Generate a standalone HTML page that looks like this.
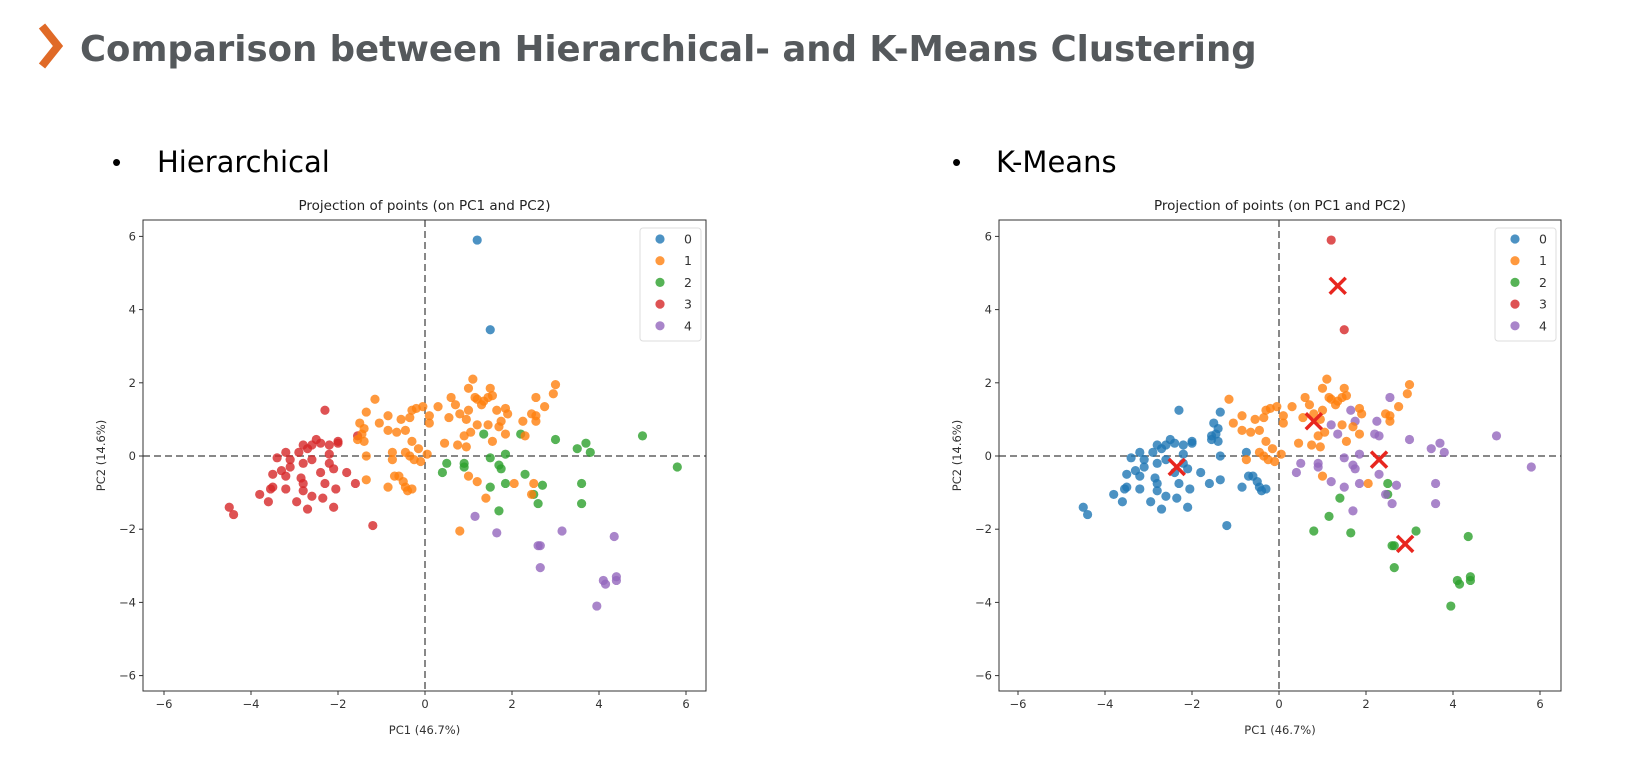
<!DOCTYPE html>
<html><head><meta charset="utf-8"><style>
body{margin:0;background:#fff;width:1632px;height:776px;overflow:hidden;font-family:"Liberation Sans",sans-serif}
svg{position:absolute;left:0;top:0}
.c{font-family:"DejaVu Sans","Liberation Sans",sans-serif}
</style></head><body>
<svg id="s" width="1632" height="776" xmlns="http://www.w3.org/2000/svg">
<path d="M42 26 L58 46 L42 66" stroke="#e06a27" stroke-width="8" fill="none"/>
<text x="80" y="61" font-size="35.5" font-weight="bold" fill="#55595c" font-family="DejaVu Sans, sans-serif">Comparison between Hierarchical- and K-Means Clustering</text>
<text x="112" y="171" font-size="26">•</text>
<text x="157" y="172" font-size="29" font-family="DejaVu Sans, sans-serif">Hierarchical</text>
<text x="952" y="171" font-size="26">•</text>
<text x="996" y="172" font-size="29" font-family="DejaVu Sans, sans-serif">K-Means</text>
</svg>
<script>
const pcX=[1.2,1.5,
1.15,1.65,2.6,2.65,2.65,3.15,4.35,4.1,4.15,4.4,4.4,3.95,
1.35,2.2,3.0,3.5,3.7,3.8,5.0,5.8,0.5,0.4,0.9,0.9,1.5,1.7,1.75,1.85,2.3,1.5,1.85,2.7,2.5,2.6,3.6,3.6,1.7,
-2.3,-1.55,-2.0,-2.0,-2.5,-2.6,-2.8,-2.7,-2.4,-2.2,-3.2,-2.9,-3.4,-3.1,-2.6,-2.2,-2.8,-2.2,-3.1,-3.3,-2.4,-2.1,-1.8,-3.5,-3.2,-2.85,-2.8,-2.3,-1.6,-3.5,-3.2,-2.8,-2.05,-3.55,-3.8,-2.6,-2.95,-2.35,-3.6,-2.7,-2.1,-4.5,-4.4,-1.2,
1.1,1.0,1.5,3.0,2.95,0.6,1.15,1.2,1.35,1.45,1.55,2.55,-1.15,0.7,1.3,0.3,-0.2,-0.05,1.0,1.65,1.85,2.75,-1.35,-0.3,0.1,0.55,0.8,1.9,2.45,2.55,-0.85,-0.35,-0.55,0.95,1.75,2.25,2.55,0.1,-1.5,-1.05,-1.4,-0.85,-0.65,1.45,1.2,1.7,1.05,-1.45,-0.45,0.9,1.85,2.3,1.55,-1.4,-1.55,0.45,-0.3,0.75,0.95,-1.35,-0.75,-0.45,-0.15,-0.35,0.05,-0.75,-0.25,-0.1,1.0,1.2,-0.7,-0.6,-0.5,-1.35,-0.85,-0.45,-0.4,-0.3,2.05,2.5,2.45,1.4,0.8];
const pcY=[5.9,3.45,
-1.65,-2.1,-2.45,-2.45,-3.05,-2.05,-2.2,-3.4,-3.5,-3.4,-3.3,-4.1,
0.6,0.6,0.45,0.2,0.35,0.1,0.55,-0.3,-0.2,-0.45,-0.2,-0.3,-0.05,-0.25,-0.35,0.05,-0.5,-0.85,-0.75,-0.8,-1.05,-1.3,-0.75,-1.3,-1.5,
1.25,0.55,0.4,0.35,0.45,0.3,0.3,0.2,0.35,0.3,0.1,0.1,-0.05,-0.1,-0.1,0.05,-0.2,-0.2,-0.3,-0.4,-0.45,-0.35,-0.45,-0.5,-0.55,-0.6,-0.75,-0.75,-0.75,-0.85,-0.9,-0.95,-0.9,-0.9,-1.05,-1.1,-1.25,-1.15,-1.25,-1.45,-1.4,-1.4,-1.6,-1.9,
2.1,1.85,1.85,1.95,1.7,1.6,1.6,1.55,1.5,1.6,1.65,1.6,1.55,1.4,1.4,1.35,1.3,1.35,1.25,1.25,1.3,1.35,1.2,1.25,1.1,1.05,1.15,1.15,1.15,1.1,1.1,1.05,1.0,1.0,0.95,0.95,0.95,0.9,0.9,0.9,0.75,0.7,0.65,0.85,0.85,0.8,0.65,0.6,0.7,0.55,0.6,0.55,0.4,0.4,0.45,0.35,0.4,0.3,0.25,0.0,0.1,0.1,0.2,0.0,0.05,-0.1,-0.1,-0.15,-0.55,-0.7,-0.55,-0.55,-0.7,-0.65,-0.85,-0.85,-0.95,-0.9,-0.75,-0.75,-1.05,-1.15,-2.05];
const hierLabel=[0,0,
4,4,4,4,4,4,4,4,4,4,4,4,
2,2,2,2,2,2,2,2,2,2,2,2,2,2,2,2,2,2,2,2,2,2,2,2,2,
3,3,3,3,3,3,3,3,3,3,3,3,3,3,3,3,3,3,3,3,3,3,3,3,3,3,3,3,3,3,3,3,3,3,3,3,3,3,3,3,3,3,3,3,
1,1,1,1,1,1,1,1,1,1,1,1,1,1,1,1,1,1,1,1,1,1,1,1,1,1,1,1,1,1,1,1,1,1,1,1,1,1,1,1,1,1,1,1,1,1,1,1,1,1,1,1,1,1,1,1,1,1,1,1,1,1,1,1,1,1,1,1,1,1,1,1,1,1,1,1,1,1,1,1,1,1,1];
const kmeansLabel=[3,3,
2,2,2,2,2,2,2,2,2,2,2,2,
4,4,4,4,4,4,4,4,4,4,4,4,4,4,4,4,4,4,4,4,2,4,4,4,4,
0,0,0,0,0,0,0,0,0,0,0,0,0,0,0,0,0,0,0,0,0,0,0,0,0,0,0,0,0,0,0,0,0,0,0,0,0,0,0,0,0,0,0,0,
1,1,1,1,1,1,1,1,1,1,1,4,1,1,1,1,1,1,1,4,1,1,0,1,1,1,1,1,1,1,1,1,1,1,4,4,1,1,0,1,0,1,1,1,4,1,1,0,1,1,1,4,1,0,0,1,1,1,1,0,0,1,1,1,1,1,1,1,1,4,0,0,0,0,0,0,0,0,1,2,4,2,2];
const centroidX=[-2.35,0.8,1.35,2.3,2.9];
const centroidY=[-0.3,0.95,4.65,-0.1,-2.4];
const tickVals=[-6,-4,-2,0,2,4,6];
const tickLabels=["\u22126","\u22124","\u22122","0","2","4","6"];
const legendLabels=["0","1","2","3","4"];
const palette=["#1f77b4","#ff7f0e","#2ca02c","#d62728","#9467bd"];

const svg=document.getElementById('s');
const NS="http://www.w3.org/2000/svg";
function mk(tag,attrs,parent){const e=document.createElementNS(NS,tag);for(const k in attrs)e.setAttribute(k,attrs[k]);(parent||svg).appendChild(e);return e;}
function yPix(v){return 456-v*36.6;}

function drawPlot(prefix,fl,fr,cx,labels,withCentroids){
  const xPix=v=>cx+v*43.5;
  const top=220,bot=691;
  const g=mk('g',{class:'c'});
  
  
  const t=mk('text',{x:(fl+fr)/2,y:210,'font-size':13.5,'text-anchor':'middle',fill:'#222'},g);
  t.textContent='Projection of points (on PC1 and PC2)';
  
  
  tickVals.forEach((v,i)=>{
    const x=xPix(v);
    mk('line',{x1:x,x2:x,y1:bot,y2:bot+4,stroke:'#333'},g);
    const tx=mk('text',{x:x,y:bot+17,'font-size':11.5,'text-anchor':'middle',fill:'#333'},g);
    tx.textContent=tickLabels[i];
    
    
    const y=yPix(v);
    mk('line',{x1:fl-4,x2:fl,y1:y,y2:y,stroke:'#333'},g);
    const ty=mk('text',{x:fl-7,y:y+4,'font-size':11.5,'text-anchor':'end',fill:'#333'},g);
    ty.textContent=tickLabels[i];
    
    
  });
  const xl=mk('text',{x:(fl+fr)/2,y:734,'font-size':11.5,'text-anchor':'middle',fill:'#333'},g);
  xl.textContent='PC1 (46.7%)';
  
  
  const yl=mk('text',{x:0,y:0,'font-size':11.5,'text-anchor':'middle',fill:'#333',transform:`translate(${fl-38},${(top+bot)/2}) rotate(-90)`},g);
  yl.textContent='PC2 (14.6%)';
  
  
  const vl=mk('line',{x1:xPix(0),x2:xPix(0),y1:top,y2:bot,stroke:'#888','stroke-width':2,'stroke-dasharray':'7,4'},g);
  
  
  const hl=mk('line',{x1:fl,x2:fr,y1:yPix(0),y2:yPix(0),stroke:'#888','stroke-width':2,'stroke-dasharray':'7,4'},g);
  
  
  for(let i=0;i<pcX.length;i++){
    const c=mk('circle',{cx:xPix(pcX[i]),cy:yPix(pcY[i]),r:4.6,fill:palette[labels[i]],'fill-opacity':0.8},g);
    
    
  }
  if(withCentroids){
    for(let i=0;i<centroidX.length;i++){
      const x=xPix(centroidX[i]),y=yPix(centroidY[i]);
      const p=mk('path',{d:`M${x-8} ${y-8}L${x+8} ${y+8}M${x-8} ${y+8}L${x+8} ${y-8}`,stroke:'#e8261f','stroke-width':3.5},g);
      
      
    }
  }
  const fr_=mk('rect',{x:fl,y:top,width:fr-fl,height:bot-top,fill:'none',stroke:'#333','stroke-width':1},g);
  
  
  const lx=fr-66;
  const lg=mk('rect',{x:lx,y:228,width:61,height:113,rx:3,fill:'#fff','fill-opacity':0.85,stroke:'#ddd'},g);
  
  
  legendLabels.forEach((lab,i)=>{
    const y=239+i*21.7;
    const m=mk('circle',{cx:lx+20,cy:y,r:4.6,fill:palette[i],'fill-opacity':0.8},g);
    
    
    const tt=mk('text',{x:lx+48,y:y+4.5,'font-size':12.5,'text-anchor':'middle',fill:'#333'},g);
    tt.textContent=lab;
    
    
  });
}
drawPlot('hierarchical',143,706,425,hierLabel,false);
drawPlot('kmeans',999,1561,1279,kmeansLabel,true);
</script>
</body></html>
